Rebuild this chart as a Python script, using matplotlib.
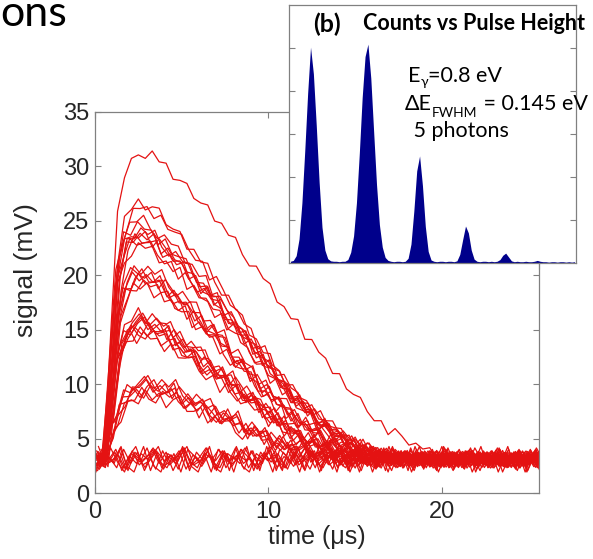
import numpy as np
import matplotlib.pyplot as plt

plt.rcParams['font.family'] = ['Liberation Sans', 'DejaVu Sans']

W, H = 593, 559

# pulse traces, sampled every 0.4 us
t = np.arange(65) * 0.4
base = 3.1

pulse_top = [3.1, 3.1, 14.0, 26.0, 29.5, 30.5, 31.0, 31.1, 31.0, 30.6,
             30.0, 29.3, 28.6, 27.9, 27.3, 26.7, 26.1, 25.4, 24.6, 23.8,
             23.0, 22.2, 21.4, 20.6, 19.7, 18.8, 17.9, 17.0, 16.2, 15.4,
             14.6, 13.8, 13.0, 12.2, 11.4, 10.6, 9.8, 9.0, 8.3, 7.6,
             7.0, 6.4, 5.9, 5.5, 5.1, 4.7, 4.4, 4.1, 3.8, 3.6,
             3.4, 3.3, 3.2] + [3.1] * 12
pulse_26 = [3.1, 3.1, 12.0, 21.0, 24.5, 25.8, 26.2, 26.1, 25.7, 25.1,
            24.5, 23.9, 23.2, 22.5, 21.8, 21.0, 20.2, 19.4, 18.5, 17.6,
            16.6, 15.6, 14.7, 13.8, 12.9, 12.0, 11.2, 10.4, 9.6, 8.9,
            8.2, 7.6, 7.0, 6.5, 6.0, 5.5, 5.1, 4.7, 4.4, 4.1,
            3.9, 3.7, 3.5, 3.4, 3.3, 3.2] + [3.1] * 19
pulse_24 = [3.1, 3.1, 11.0, 19.5, 22.5, 23.5, 23.7, 23.5, 23.1, 22.6,
            22.1, 21.5, 20.9, 20.2, 19.5, 18.8, 18.1, 17.4, 16.7, 16.0,
            15.2, 14.4, 13.6, 12.8, 12.0, 11.2, 10.4, 9.7, 9.0, 8.3,
            7.7, 7.1, 6.6, 6.1, 5.6, 5.2, 4.8, 4.5, 4.2, 3.9,
            3.7, 3.5, 3.4, 3.3, 3.2] + [3.1] * 20
pulse_20 = [3.1, 3.1, 9.5, 16.0, 18.8, 19.7, 20.0, 19.9, 19.6, 19.2,
            18.7, 18.2, 17.6, 17.0, 16.4, 15.8, 15.2, 14.5, 13.8, 13.1,
            12.4, 11.7, 11.0, 10.3, 9.6, 9.0, 8.4, 7.8, 7.2, 6.7,
            6.2, 5.8, 5.4, 5.0, 4.7, 4.4, 4.1, 3.9, 3.7, 3.5,
            3.4, 3.3, 3.2] + [3.1] * 22
pulse_15 = [3.1, 3.1, 8.0, 12.5, 14.5, 15.2, 15.4, 15.4, 15.2, 14.9,
            14.5, 14.1, 13.6, 13.1, 12.6, 12.1, 11.6, 11.1, 10.6, 10.1,
            9.6, 9.1, 8.6, 8.1, 7.6, 7.1, 6.6, 6.1, 5.6, 5.2,
            4.9, 4.6, 4.3, 4.1, 3.9, 3.7, 3.5, 3.4, 3.3, 3.2] + [3.1] * 25
pulse_10 = [3.1, 3.1, 5.5, 7.5, 8.6, 9.2, 9.5, 9.6, 9.6, 9.5,
            9.3, 9.1, 8.8, 8.5, 8.2, 7.9, 7.6, 7.3, 7.0, 6.7,
            6.4, 6.1, 5.8, 5.5, 5.2, 4.9, 4.6, 4.4, 4.2, 4.0,
            3.8, 3.6, 3.5, 3.4, 3.3, 3.2] + [3.1] * 29
pulse_0 = [3.1] * 65

# jitter seen on the traces (mV, before scaling)
noise = [0.3, -0.5, 0.8, -0.2, -0.9, 0.4, 0.1, -0.6, 0.7, -0.3,
         0.5, -0.8, 0.2, 0.9, -0.4, -0.1, 0.6, -0.7, 0.3, -0.2,
         0.8, -0.5, -0.9, 0.4, 0.0, 0.7, -0.6, 0.2, -0.3, 0.9,
         -0.8, 0.5, -0.1, 0.3, -0.7, 0.6, -0.4, 0.1, 0.8, -0.2,
         -0.6, 0.4, -0.9, 0.7, 0.2, -0.5, 0.3, -0.1, 0.6, -0.8,
         0.9, -0.3, 0.1, -0.7, 0.5, -0.2, 0.4, -0.6, 0.8, -0.4,
         0.0, 0.6, -0.9, 0.3, -0.1, 0.7, -0.5, 0.2, -0.8, 0.5,
         0.1, -0.3, 0.9, -0.6, 0.4, -0.2, 0.7, -0.7, 0.3, -0.4,
         0.8, -0.1, -0.5, 0.6, -0.9, 0.2, 0.4, -0.3, 0.7, -0.6,
         0.1, 0.5, -0.8, 0.3, -0.2, 0.9, -0.4, 0.6, -0.7, 0.2]

# (shape, amplitude of each trace, start delay of each trace, jitter size)
trace_sets = [
    (pulse_top, [1.0], [0.1], 0.6),
    (pulse_26, [0.95, 1.0, 1.02], [0.0, 0.2, 0.1], 0.7),
    (pulse_24, [0.95, 0.97, 0.98, 1.0, 1.01, 1.02, 1.04],
     [0.1, 0.0, 0.3, 0.2, 0.1, 0.25, 0.05], 0.8),
    (pulse_20, [0.94, 0.96, 0.98, 0.99, 1.0, 1.02, 1.04],
     [0.2, 0.0, 0.1, 0.3, 0.15, 0.05, 0.25], 0.85),
    (pulse_15, [0.92, 0.94, 0.96, 0.98, 1.0, 1.01, 1.03, 1.05, 1.07],
     [0.0, 0.2, 0.1, 0.3, 0.05, 0.25, 0.15, 0.35, 0.1], 0.85),
    (pulse_10, [0.88, 0.92, 0.96, 1.0, 1.03, 1.06, 1.1],
     [0.1, 0.3, 0.0, 0.2, 0.15, 0.05, 0.25], 0.9),
    (pulse_0, [0, 0, 0, 0, 0, 0, 0, 0],
     [0.0, 0.1, 0.2, 0.3, 0.05, 0.25, 0.15, 0.35], 1.3),
]

# pulse-height histogram (inset), one count per bin
bin_mid = np.arange(100) + 0.5
counts = [4, 6, 17, 56, 140, 262, 395, 502, 440, 320,
          188, 83, 30, 10, 5, 4, 4, 3, 4, 4,
          8, 25, 63, 140, 255, 385, 480, 509, 430, 305,
          182, 89, 37, 13, 6, 4, 3, 4, 4, 3,
          4, 11, 44, 121, 214, 249, 180, 85, 27, 7,
          4, 3, 4, 4, 3, 4, 4, 3, 5, 20,
          54, 86, 70, 30, 9, 4, 3, 4, 4, 3,
          4, 3, 4, 8, 18, 23, 14, 5, 3, 4,
          3, 3, 4, 3, 3, 4, 6, 4, 3, 3,
          2, 3, 3, 2, 3, 3, 2, 3, 2, 3]

fig = plt.figure(figsize=(W / 100, H / 100), dpi=100)
ax = fig.add_axes([95 / W, 1 - 493 / H, 444 / W, 381 / H])

k = 0
for shape, scales, delays, amp in trace_sets:
    shape = np.array(shape)
    for s, d in zip(scales, delays):
        start = (k * 13) % 35
        jit = np.array(noise[start:start + 65])
        y = base + s * (shape - base) + amp * jit
        ax.plot(t + d, y, color='#e41212', lw=0.9)
        k += 1

ax.set_xlim(0, 25.6)
ax.set_ylim(0, 35)
ax.set_xticks([0, 10, 20])
ax.set_yticks(range(0, 36, 5))
for sp in ax.spines.values():
    sp.set_color('#808080')
    sp.set_linewidth(0.9)
ax.tick_params(direction='in', top=True, right=True, length=4, width=0.8,
               color='#808080', labelcolor='#262626', labelsize=17)
ax.tick_params(axis='x', pad=6)
ax.tick_params(axis='y', pad=4)
ax.set_xlabel('time (\u03bcs)', fontsize=18, color='#262626', labelpad=1)
ax.set_ylabel('signal (mV)', fontsize=19, color='#262626')
ax.yaxis.set_label_coords(-0.128, 0.585)

# inset
ax2 = fig.add_axes([289 / W, 1 - 263 / H, 287 / W, 258 / H], zorder=3)
ax2.fill_between(bin_mid, counts, color='#00008b', linewidth=0)
ax2.set_xlim(0, 100)
ax2.set_ylim(0, 600)
ax2.set_xticks([87])
ax2.set_yticks([100, 200, 300, 400, 500])
ax2.tick_params(axis='y', direction='in', left=True, right=True, length=4,
                color='#808080', labelleft=False)
ax2.tick_params(axis='x', direction='out', length=4, color='#808080',
                labelbottom=False)
for sp in ax2.spines.values():
    sp.set_color('#808080')
    sp.set_linewidth(0.9)

fam = ['Lato', 'DejaVu Sans']
fig.text(313 / W, 1 - 24 / H, '(b)', fontsize=18, fontweight='bold',
         family=fam, va='center', zorder=5)
fig.text(363 / W, 1 - 24 / H, 'Counts vs Pulse Height', fontsize=15.5,
         fontweight='bold', family=fam, va='center', zorder=5)

renderer = fig.canvas.get_renderer()


def put_runs(x, y, runs):
    # lay text pieces one after another, dy shifts subscripts down (px)
    for s, size, dy in runs:
        txt = fig.text(x / W, 1 - (y + dy) / H, s, fontsize=size, family=fam,
                       va='baseline', ha='left', zorder=5)
        x += txt.get_window_extent(renderer=renderer).width


put_runs(408, 82, [('E', 15.5, 0), ('\u03b3', 10, 4), ('=0.8 eV', 15.5, 0)])
put_runs(405, 110, [('\u0394E', 15.5, 0), ('FWHM', 10, 7), (' = 0.145 eV', 15.5, 0)])
put_runs(408, 137, [(' 5 photons', 15.5, 0)])

fig.text(0, 1 - 26 / H, 'ons', fontsize=31, family=fam, va='baseline')

fig.savefig('out.png', dpi=100)
